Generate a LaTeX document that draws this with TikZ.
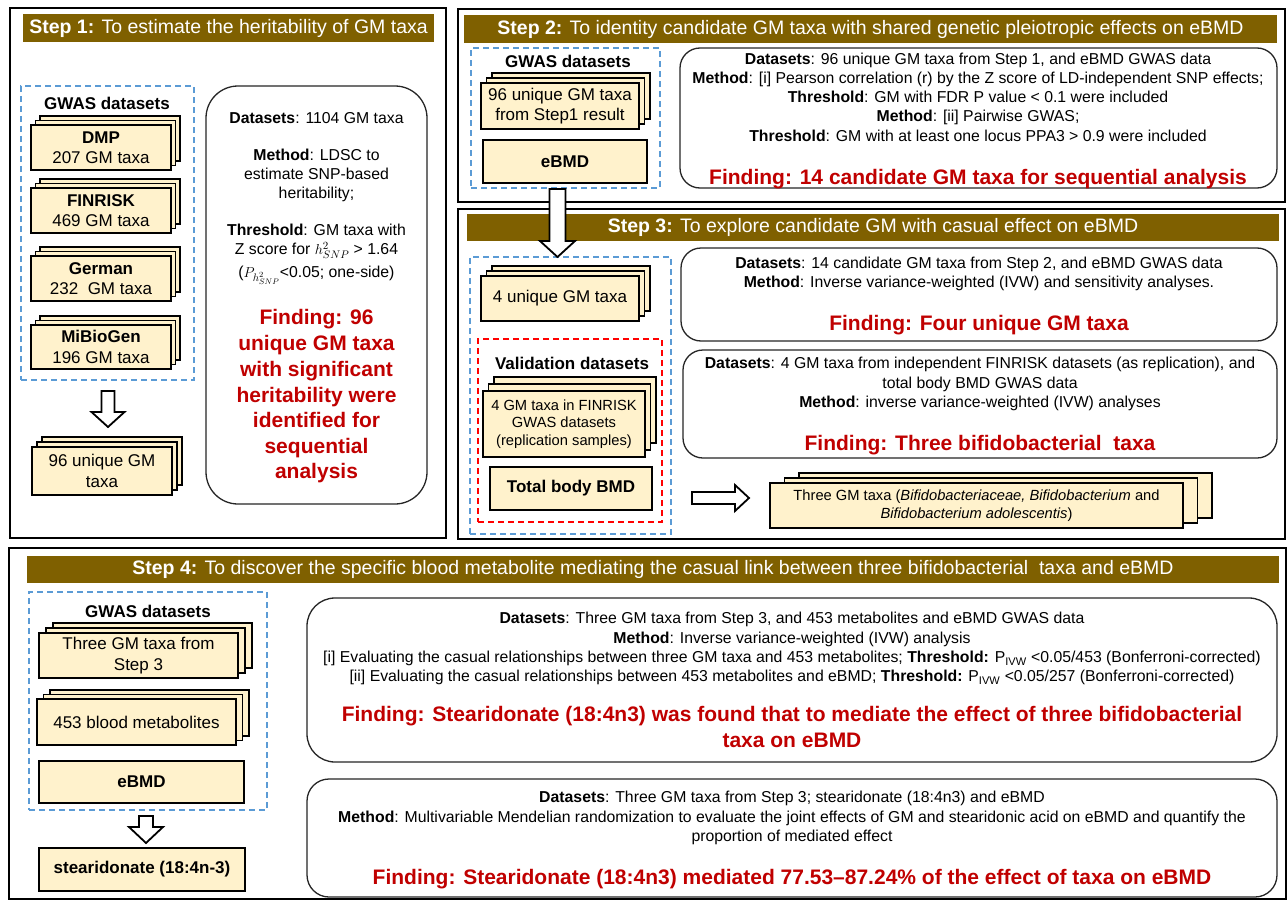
\documentclass[tikz,border=0pt]{standalone}
\usepackage{fontspec}
\setmainfont{Liberation Sans}
\definecolor{hdrc}{HTML}{7F6000}
\definecolor{boxfill}{HTML}{FFF2CC}
\definecolor{dblue}{HTML}{5B9BD5}
\definecolor{dred}{HTML}{FF0000}
\definecolor{findred}{HTML}{C00000}
\newcommand\fsBody{\fontsize{15.8}{19}\selectfont}
\newcommand\fsFind{\fontsize{21}{25.6}\selectfont\bfseries}
\newcommand\fsLab{\fontsize{17}{20.5}\selectfont}
\newcommand\fsSmall{\fontsize{14.7}{17.5}\selectfont}
\newcommand\fsHdr{\fontsize{19.5}{23}\selectfont}
% text lines (name, x, visual centre y, text)
\newcommand\BL[4]{\node[anchor=base,inner sep=0pt,font=\fsBody] (#1) at (#2,#3+5.7) {#4};}
\newcommand\FL[4]{\node[anchor=base,inner sep=0pt,font=\fsFind,text=findred] (#1) at (#2,#3+7.6) {#4};}
\newcommand\LL[4]{\node[anchor=base,inner sep=0pt,font=\fsLab\bfseries] (#1) at (#2,#3+6.1) {#4};}
% rectangular node from corners: name, x1, y1, x2, y2, style
\newcommand\rectnode[6]{\node[#6,minimum width={(#4-#2)*1pt},minimum height={(#5-#3)*1pt},inner sep=0pt] (#1) at ({(#2+#4)/2},{(#3+#5)/2}) {};}
% box with text: name, x1, y1, x2, y2, font, text
\newcommand\tbox[7]{\node[stackst,font=#6,align=center,minimum width={(#4-#2)*1pt},minimum height={(#5-#3)*1pt},inner sep=0pt] (#1) at ({(#2+#4)/2},{(#3+#5)/2}) {#7};}
% stacked boxes: name, x1, y1, x2, y2, dx, dy, font, text
\newcommand\stack[9]{%
  \draw[stackst] (#2+2*#6,#3-2*#7) rectangle (#4+2*#6,#5-2*#7);
  \draw[stackst] (#2+#6,#3-#7) rectangle (#4+#6,#5-#7);
  \node[stackst,font=#8,align=center,minimum width={(#4-#2)*1pt},minimum height={(#5-#3)*1pt},inner sep=0pt] (#1) at ({(#2+#4)/2},{(#3+#5)/2}) {#9};}
\begin{document}
\begin{tikzpicture}[x=1pt,y=-1pt,
  outer/.style={draw=black,line width=1.6pt},
  hdr/.style={fill=hdrc,text=white,font=\fsHdr},
  grp/.style={draw=dblue,dash pattern=on 6pt off 4pt,line width=1.5pt},
  grpred/.style={draw=dred,dash pattern=on 6pt off 4pt,line width=1.5pt},
  stackst/.style={draw=black,fill=boxfill,line width=1.3pt},
  rbox/.style={draw=black!85,line width=1.3pt},
  barrow/.style={draw=black,fill=white,line width=1.8pt,line join=miter}]
\useasboundingbox (0,0) rectangle (1288,902);
\fill[white] (0,0) rectangle (1288,902);

% ---------- outer frames ----------
\rectnode{s1}{10}{8}{446}{538}{outer}
\rectnode{s2}{458}{9}{1285}{202}{outer}
\rectnode{s3}{458}{209}{1285}{539}{outer}
\rectnode{s4}{9}{548}{1286}{899}{outer}

% ---------- headers ----------
\node[hdr,minimum width=411pt,minimum height=28pt,inner sep=0pt] (h1) at (228.5,28) {\textbf{Step 1:} To estimate the heritability of GM taxa};
\node[hdr,minimum width=813pt,minimum height=28pt,inner sep=0pt] (h2) at (870.5,29) {\textbf{Step 2:} To identity candidate GM taxa with shared genetic pleiotropic effects on eBMD};
\node[hdr,minimum width=812pt,minimum height=27pt,inner sep=0pt] (h3) at (873,227.5) {\textbf{Step 3:} To explore candidate GM with casual effect on eBMD};
\node[hdr,minimum width=1252pt,minimum height=27pt,inner sep=0pt] (h4) at (653,569.5) {\textbf{Step 4:} To discover the specific blood metabolite mediating the casual link between three bifidobacterial\ \ taxa and eBMD};

% ---------- Step 1 ----------
\rectnode{g1}{21}{86}{194}{380}{grp}
\LL{g1l}{107}{103}{GWAS datasets}
\stack{dmp}{31}{125}{171}{170}{4.5}{4.5}{\fsLab}{\textbf{DMP}\\207 GM taxa}
\stack{finrisk}{31}{188}{171}{233}{4.5}{4.5}{\fsLab}{\textbf{FINRISK}\\469 GM taxa}
\stack{german}{31}{256}{171}{301}{4.5}{4.5}{\fsLab}{\textbf{German}\\232\ \ GM taxa}
\stack{mibio}{31}{325}{171}{369}{4.5}{4.5}{\fsLab}{\textbf{MiBioGen}\\196 GM taxa}
\stack{u96}{32}{447}{172}{495}{5}{5}{\fsLab}{96 unique GM\\taxa}
\rectnode{r1}{206}{86}{427}{504}{rbox,rounded corners=32pt}
\BL{t1a}{316.5}{118}{\textbf{Datasets}: 1104 GM taxa}
\BL{t1b}{316.5}{155}{\textbf{Method}: LDSC to}
\BL{t1c}{316.5}{174}{estimate SNP-based}
\BL{t1d}{316.5}{193}{heritability;}
\BL{t1e}{316.5}{230}{\textbf{Threshold}: GM taxa with}
\BL{t1f}{316.5}{249}{Z score for $h^2_{SNP}$ > 1.64}
\BL{t1g}{316.5}{272}{($P_{h^2_{SNP}}$<0.05; one-side)}
\FL{f1a}{316.5}{317}{Finding: 96}
\FL{f1b}{316.5}{343}{unique GM taxa}
\FL{f1c}{316.5}{369}{with significant}
\FL{f1d}{316.5}{395}{heritability were}
\FL{f1e}{316.5}{420}{identified for}
\FL{f1f}{316.5}{446}{sequential}
\FL{f1g}{316.5}{471}{analysis}
\draw[barrow] (101.5,391) -- (114.5,391) -- (114.5,412) -- (124.5,412) -- (108,427) -- (91.5,412) -- (101.5,412) -- cycle;

% ---------- Step 2 ----------
\rectnode{g2}{471}{48}{660}{188}{grp}
\LL{g2l}{568}{61}{GWAS datasets}
\stack{s2a}{481}{83}{639}{129}{5.5}{5}{\fsLab}{96 unique GM taxa\\from Step1 result}
\tbox{s2b}{483}{140}{647}{183}{\fsLab\bfseries}{eBMD}
\rectnode{r2}{680}{48}{1277}{188}{rbox,rounded corners=20pt}
\BL{t2a}{978}{59}{\textbf{Datasets}: 96 unique GM taxa from Step 1, and eBMD GWAS data}
\BL{t2b}{978}{78}{\textbf{Method}: [i] Pearson correlation (r) by the Z score of LD-independent SNP effects;}
\BL{t2c}{978}{97}{\textbf{Threshold}: GM with FDR P value < 0.1 were included}
\BL{t2d}{978}{116}{\textbf{Method}: [ii] Pairwise GWAS;}
\BL{t2e}{978}{136}{\textbf{Threshold}: GM with at least one locus PPA3 > 0.9 were included}
\FL{f2}{978}{177}{Finding: 14 candidate GM taxa for sequential analysis}

% ---------- Step 3 ----------
\rectnode{g3}{470}{257}{671}{534}{grp}
\stack{s3a}{481}{276}{639}{321}{5.5}{5}{\fsLab}{4 unique GM taxa}
\rectnode{g3r}{478}{339}{662}{522}{grpred}
\LL{g3l}{572}{363}{Validation datasets}
\stack{s3b}{483}{391}{645}{457}{5.5}{7}{\fsSmall}{4 GM taxa in FINRISK\\GWAS datasets\\(replication samples)}
\tbox{s3c}{490}{467}{652}{510}{\fsLab\bfseries}{Total body BMD}
\stack{s3d}{770}{483}{1183}{528}{14.5}{5}{\fsSmall}{Three GM taxa (\textit{Bifidobacteriaceae, Bifidobacterium} and\\\textit{Bifidobacterium adolescentis})}
\rectnode{r3a}{681}{248}{1277}{341}{rbox,rounded corners=20pt}
\BL{t3a}{979}{263}{\textbf{Datasets}: 14 candidate GM taxa from Step 2, and eBMD GWAS data}
\BL{t3b}{979}{282}{\textbf{Method}: Inverse variance-weighted (IVW) and sensitivity analyses.}
\FL{f3a}{979}{323}{Finding: Four unique GM taxa}
\rectnode{r3b}{683}{350}{1277}{458}{rbox,rounded corners=20pt}
\BL{t3c}{980}{363}{\textbf{Datasets}: 4 GM taxa from independent FINRISK datasets (as replication), and}
\BL{t3d}{980}{383}{total body BMD GWAS data}
\BL{t3e}{980}{402}{\textbf{Method}: inverse variance-weighted (IVW) analyses}
\FL{f3b}{980}{443}{Finding: Three bifidobacterial\ \ taxa}
\draw[barrow] (692,492) -- (735,492) -- (735,485) -- (749,498) -- (735,511) -- (735,504) -- (692,504) -- cycle;

% ---------- Step 4 ----------
\rectnode{g4}{29}{592}{267}{810}{grp}
\LL{g4l}{148}{611}{GWAS datasets}
\stack{s4a}{39}{633}{238}{678}{7}{5}{\fsLab}{Three GM taxa from\\Step 3}
\stack{s4b}{37}{699}{236}{745}{6.5}{4.5}{\fsLab}{453 blood metabolites}
\tbox{s4c}{39}{761}{244}{803}{\fsLab\bfseries}{eBMD}
\tbox{s4d}{39}{848}{245}{891}{\fsLab\bfseries}{stearidonate (18:4n-3)}
\draw[barrow] (139,816) -- (153,816) -- (153,827) -- (163,827) -- (146,843) -- (129,827) -- (139,827) -- cycle;
\rectnode{r4a}{307}{598}{1277}{762}{rbox,rounded corners=28pt}
\BL{t4a}{792}{618}{\textbf{Datasets}: Three GM taxa from Step 3, and 453 metabolites and eBMD GWAS data}
\BL{t4b}{792}{638}{\textbf{Method}: Inverse variance-weighted (IVW) analysis}
\BL{t4c}{792}{657}{[i] Evaluating the casual relationships between three GM taxa and 453 metabolites; \textbf{Threshold:} P\textsubscript{IVW} <0.05/453 (Bonferroni-corrected)}
\BL{t4d}{792}{676}{[ii] Evaluating the casual relationships between 453 metabolites and eBMD; \textbf{Threshold:} P\textsubscript{IVW} <0.05/257 (Bonferroni-corrected)}
\FL{f4a}{792}{714}{Finding: Stearidonate (18:4n3) was found that to mediate the effect of three bifidobacterial}
\FL{f4b}{792}{740}{taxa on eBMD}
\rectnode{r4b}{307}{779}{1277}{897}{rbox,rounded corners=22pt}
\BL{t4e}{792}{797}{\textbf{Datasets}: Three GM taxa from Step 3; stearidonate (18:4n3) and eBMD}
\BL{t4f}{792}{817}{\textbf{Method}: Multivariable Mendelian randomization to evaluate the joint effects of GM and stearidonic acid on eBMD and quantify the}
\BL{t4g}{792}{836}{proportion of mediated effect}
\FL{f4c}{792}{877}{Finding: Stearidonate (18:4n3) mediated 77.53–87.24\% of the effect of taxa on eBMD}

% ---------- arrow from Step 2 to Step 3 ----------
\draw[barrow] (549.5,189) -- (565.5,189) -- (565.5,241) -- (575,241) -- (557.5,257) -- (540,241) -- (549.5,241) -- cycle;
\end{tikzpicture}
\end{document}
